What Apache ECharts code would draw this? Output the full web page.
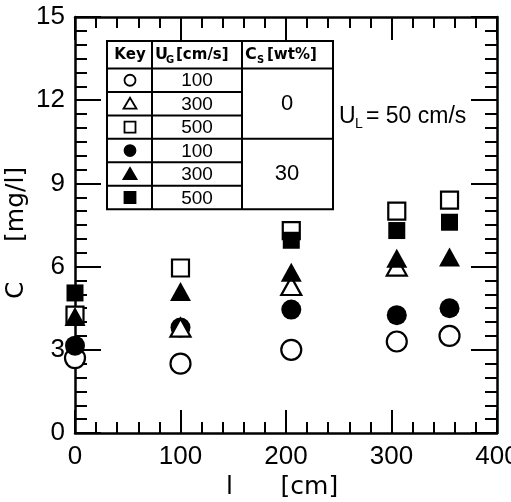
<!DOCTYPE html>
<html>
<head>
<meta charset="utf-8">
<script src="https://cdn.jsdelivr.net/npm/echarts@6/dist/echarts.min.js"></script>
<style>
  html, body { margin: 0; padding: 0; background: #fff; }
  #chart { width: 511px; height: 502px; }
</style>
</head>
<body>
<div id="chart"></div>
<script>
  // distance along column, cm
  var lengths = [0, 100, 205, 305, 355]
  // C [mg/l], Cs = 0 wt%
  var openCircle = [2.7, 2.5, 3.0, 3.3, 3.5]      // UG 100
  var openTriangle = [null, 3.8, 5.3, 6.0, null]  // UG 300
  var openSquare = [4.25, 5.95, 7.3, 8.0, 8.4]    // UG 500
  // C [mg/l], Cs = 30 wt%
  var filledCircle = [3.15, 3.8, 4.45, 4.25, 4.5]
  var filledTriangle = [4.2, 5.1, 5.8, 6.3, 6.35]
  var filledSquare = [5.05, null, 6.95, 7.3, 7.6]

  var xTicks = [0, 100, 200, 300, 400]
  var yTicks = [0, 3, 6, 9, 12, 15]

  function pairs(vals) {
    var out = []
    vals.forEach(function (v, i) {
      if (v !== null) out.push([lengths[i], v])
    })
    return out
  }

  var chart = echarts.init(document.getElementById('chart'))

  var axisLine = { onZero: false, lineStyle: { color: '#000', width: 2.5 } }
  var tickFont = { color: '#000', fontSize: 26, fontFamily: 'Liberation Sans' }

  function xAxis(pos) {
    return {
      type: 'value',
      position: pos,
      min: xTicks[0],
      max: xTicks[xTicks.length - 1],
      interval: 100,
      axisLine: axisLine,
      axisTick: { inside: true, length: 23, lineStyle: { color: '#000', width: 2 } },
      minorTick: { show: true, splitNumber: 5, length: 11, lineStyle: { color: '#000', width: 2 } },
      axisLabel: pos === 'bottom' ? Object.assign({ margin: 11 }, tickFont) : { show: false },
      splitLine: { show: false },
      minorSplitLine: { show: false }
    }
  }

  function yAxis(pos) {
    return {
      type: 'value',
      position: pos,
      min: yTicks[0],
      max: yTicks[yTicks.length - 1],
      interval: 3,
      axisLine: axisLine,
      axisTick: { inside: true, length: 26, lineStyle: { color: '#000', width: 2 } },
      minorTick: { show: true, splitNumber: 6, length: 12, lineStyle: { color: '#000', width: 2 } },
      axisLabel: pos === 'left' ? Object.assign({ margin: 10 }, tickFont) : { show: false },
      splitLine: { show: false },
      minorSplitLine: { show: false }
    }
  }

  var xa = xAxis('bottom')
  xa.name = 'l      [cm] '
  xa.nameLocation = 'middle'
  xa.nameGap = 42
  xa.nameMoveOverlap = false
  xa.nameTextStyle = { color: '#000', fontSize: 25, fontFamily: 'DejaVu Sans' }

  var ya = yAxis('left')
  ya.name = 'C     [mg/l]  '
  ya.nameLocation = 'middle'
  ya.nameRotate = 90
  ya.nameGap = 46
  ya.nameMoveOverlap = false
  ya.nameTextStyle = { color: '#000', fontSize: 25, fontFamily: 'DejaVu Sans' }

  function series(name, vals, symbol, size, filled) {
    return {
      name: name,
      type: 'scatter',
      data: pairs(vals),
      symbol: symbol,
      symbolSize: size,
      itemStyle: filled
        ? { color: '#000', borderColor: '#000', borderWidth: 0, opacity: 1 }
        : { color: '#fff', borderColor: '#000', borderWidth: 2.2, opacity: 1 },
      emphasis: { disabled: true }
    }
  }

  // legend table drawn as graphics
  var tx = [107, 152, 242, 333]
  var ty0 = 41, ty1 = 68.5, rowH = 23.45
  var g = []
  var lw = 2
  g.push({ type: 'rect', shape: { x: tx[0], y: ty0, width: tx[3] - tx[0], height: ty1 + 6 * rowH - ty0 },
    style: { fill: '#fff', stroke: '#000', lineWidth: lw }, z: 100 })
  g.push({ type: 'line', shape: { x1: tx[1], y1: ty0, x2: tx[1], y2: ty1 + 6 * rowH }, style: { stroke: '#000', lineWidth: lw }, z: 101 })
  g.push({ type: 'line', shape: { x1: tx[2], y1: ty0, x2: tx[2], y2: ty1 + 6 * rowH }, style: { stroke: '#000', lineWidth: lw }, z: 101 })
  g.push({ type: 'line', shape: { x1: tx[0], y1: ty1, x2: tx[3], y2: ty1 }, style: { stroke: '#000', lineWidth: lw }, z: 101 })
  for (var r = 1; r < 6; r++) {
    var yy = ty1 + r * rowH
    g.push({ type: 'line', shape: { x1: tx[0], y1: yy, x2: r === 3 ? tx[3] : tx[2], y2: yy }, style: { stroke: '#000', lineWidth: lw }, z: 101 })
  }
  var hdr = 'bold 15px "DejaVu Sans"'
  function txt(s, x, y, font, align) {
    return { type: 'text', x: x, y: y, z: 102,
      style: { text: s, font: font, fill: '#000', textAlign: align || 'center', textVerticalAlign: 'middle' } }
  }
  g.push(txt('Key', 130, 55, hdr))
  g.push(txt('U', 155, 55, 'bold 16px "DejaVu Sans"', 'left'))
  g.push(txt('G', 166, 60, 'bold 10px "DejaVu Sans"', 'left'))
  g.push(txt('[cm/s]', 176, 55, hdr, 'left'))
  g.push(txt('C', 245, 55, 'bold 16px "DejaVu Sans"', 'left'))
  g.push(txt('S', 257, 60, 'bold 10px "DejaVu Sans"', 'left'))
  g.push(txt('[wt%]', 267, 55, hdr, 'left'))
  var ugVals = ['100', '300', '500', '100', '300', '500']
  var keyShapes = ['circle', 'triangle', 'rect', 'circle', 'triangle', 'rect']
  for (var k = 0; k < 6; k++) {
    var cy = ty1 + (k + 0.5) * rowH
    g.push(txt(ugVals[k], 197, cy + 1, '19px "Liberation Sans"'))
    var filled = k >= 3
    var st = { fill: filled ? '#000' : '#fff', stroke: '#000', lineWidth: 1.8 }
    var cx = 130
    if (keyShapes[k] === 'circle') {
      g.push({ type: 'circle', shape: { cx: cx, cy: cy, r: 5.5 }, style: st, z: 102 })
    } else if (keyShapes[k] === 'triangle') {
      g.push({ type: 'polygon', shape: { points: [[cx, cy - 6], [cx + 6.5, cy + 5], [cx - 6.5, cy + 5]] }, style: st, z: 102 })
    } else {
      g.push({ type: 'rect', shape: { x: cx - 5.5, y: cy - 5.5, width: 11, height: 11 }, style: st, z: 102 })
    }
  }
  g.push(txt('0', 287, ty1 + 1.5 * rowH, '22px "Liberation Sans"'))
  g.push(txt('30', 287, ty1 + 4.5 * rowH, '22px "Liberation Sans"'))

  // operating condition note
  g.push(txt('U', 339, 117, '23px "Liberation Sans"', 'left'))
  g.push(txt('L', 355, 124, '14px "Liberation Sans"', 'left'))
  g.push(txt('= 50 cm/s', 366, 117, '23px "Liberation Sans"', 'left'))

  chart.setOption({
    animation: false,
    backgroundColor: '#fff',
    grid: { left: 75, right: 14, top: 17, bottom: 69, containLabel: false, outerBoundsMode: 'none' },
    xAxis: [xa, xAxis('top')],
    yAxis: [ya, yAxis('right')],
    series: [
      series('UG 100, Cs 0', openCircle, 'circle', 20, false),
      series('UG 500, Cs 0', openSquare, 'rect', 17, false),
      series('UG 100, Cs 30', filledCircle, 'circle', 20, true),
      series('UG 300, Cs 0', openTriangle, 'triangle', [20, 18], false),
      series('UG 300, Cs 30', filledTriangle, 'triangle', [21, 19], true),
      series('UG 500, Cs 30', filledSquare, 'rect', 17, true)
    ],
    graphic: g
  })
</script>
</body>
</html>
